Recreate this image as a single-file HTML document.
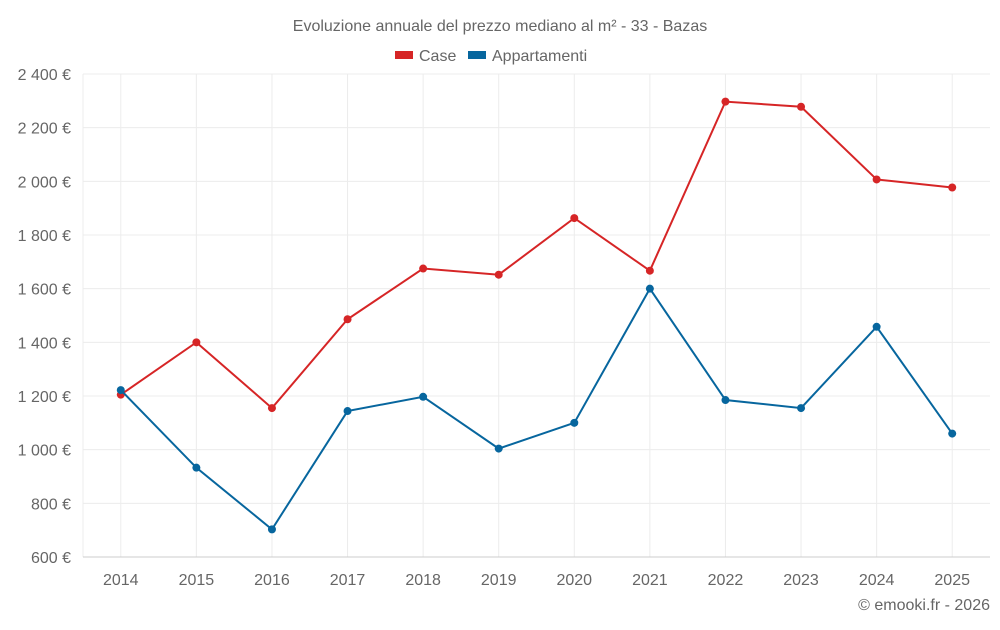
<!DOCTYPE html>
<html><head><meta charset="utf-8"><style>
body{margin:0;background:#fff;font-family:"Liberation Sans",sans-serif;}
svg text{font-family:"Liberation Sans",sans-serif;fill:#666;}
</style></head><body>
<svg id="c" width="1000" height="625">
<text x="500" y="31" text-anchor="middle" font-size="16">Evoluzione annuale del prezzo mediano al m² - 33 - Bazas</text>
<g>
<rect x="395" y="51" width="18" height="8" fill="#d62526"/>
<text x="419" y="61" font-size="16">Case</text>
<rect x="468" y="51" width="18" height="8" fill="#07669e"/>
<text x="492" y="61" font-size="16">Appartamenti</text>
</g>
<g id="grid"></g><g id="axes"></g><g id="series"></g>
<text x="990" y="610" text-anchor="end" font-size="16">© emooki.fr - 2026</text>
</svg>
<script>
const years=["2014","2015","2016","2017","2018","2019","2020","2021","2022","2023","2024","2025"];
const caseVals=[1205,1400,1155,1486,1675,1652,1863,1667,2297,2278,2007,1977];
const aptVals=[1222,933,703,1144,1197,1004,1100,1600,1185,1155,1458,1060];
const yTicks=[600,800,1000,1200,1400,1600,1800,2000,2200,2400];
const yTickLabels=["600 €","800 €","1 000 €","1 200 €","1 400 €","1 600 €","1 800 €","2 000 €","2 200 €","2 400 €"];
const L=83,R=990,T=74,B=557,ymin=600,ymax=2400;
const bw=(R-L)/years.length;
const x=i=>L+bw*(i+0.5);
const y=v=>B-(v-ymin)/(ymax-ymin)*(B-T);
const NS="http://www.w3.org/2000/svg";
function mk(t,a,p){const e=document.createElementNS(NS,t);for(const k in a)e.setAttribute(k,a[k]);p.appendChild(e);return e;}
const g=document.getElementById('grid'),ax=document.getElementById('axes'),s=document.getElementById('series');
const le=mk('line',{x1:L,x2:L,y1:T,y2:B,stroke:'#ececec'},g);


years.forEach((yr,i)=>{
 const l=mk('line',{x1:x(i),x2:x(i),y1:T,y2:B,stroke:'#ececec'},g);
 
 
});
yTicks.forEach((v,i)=>{
 const l=mk('line',{x1:L,x2:R,y1:y(v),y2:y(v),stroke:i==0?'#ccc':'#ececec'},g);
 
 
 const t=mk('text',{x:71,y:y(v)+6,'text-anchor':'end','font-size':16},ax);
 t.textContent=yTickLabels[i];
 
 
});
years.forEach((yr,i)=>{
 const t=mk('text',{x:x(i),y:585,'text-anchor':'middle','font-size':16},ax);
 t.textContent=yr;
 
 
});
function series(vals,col,name){
 const p=mk('polyline',{points:vals.map((v,i)=>x(i)+','+y(v)).join(' '),fill:'none',stroke:col,'stroke-width':2},s);
 
 
 vals.forEach((v,i)=>{
  const c=mk('circle',{cx:x(i),cy:y(v),r:4,fill:col},s);
  
  
 });
}
series(caseVals,'#d62526','case');
series(aptVals,'#07669e','appartamenti');
</script>
</body></html>
